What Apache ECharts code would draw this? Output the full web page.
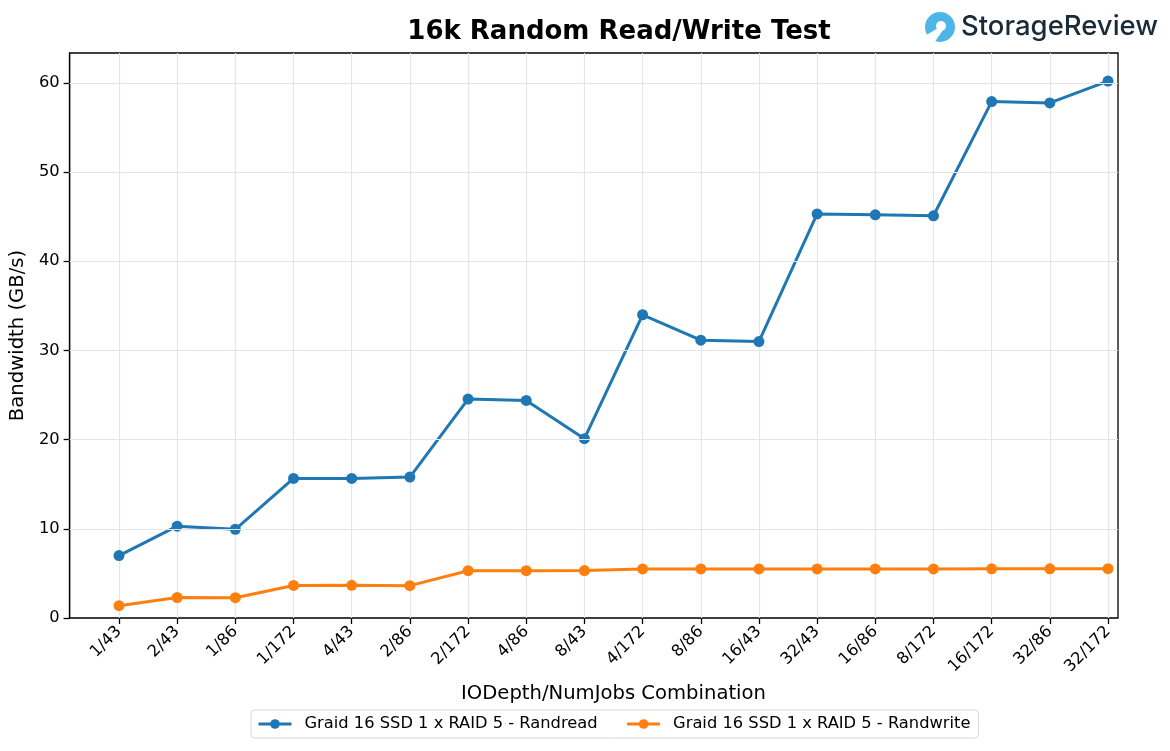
<!DOCTYPE html>
<html>
<head>
<meta charset="utf-8">
<script src="https://cdn.jsdelivr.net/npm/echarts@6/dist/echarts.min.js"></script>
<style>
html,body{margin:0;padding:0;background:#fff;}
#c{width:1170px;height:751px;}
</style>
</head>
<body>
<div id="c"></div>
<script>
const categories = ['1/43','2/43','1/86','1/172','4/43','2/86','2/172','4/86','8/43','4/172','8/86','16/43','32/43','16/86','8/172','16/172','32/86','32/172'];
const randread = [7.0, 10.3, 9.95, 15.65, 15.65, 15.8, 24.55, 24.4, 20.1, 34.0, 31.15, 31.0, 45.3, 45.2, 45.1, 57.9, 57.75, 60.2];
const randwrite = [1.38, 2.3, 2.28, 3.65, 3.67, 3.63, 5.3, 5.3, 5.32, 5.5, 5.5, 5.5, 5.5, 5.5, 5.5, 5.52, 5.52, 5.53];
const seriesNames = ['Graid 16 SSD 1 x RAID 5 - Randread', 'Graid 16 SSD 1 x RAID 5 - Randwrite'];
const yTicks = [0, 10, 20, 30, 40, 50, 60];

const FONT = 'DejaVu Sans';
const chart = echarts.init(document.getElementById('c'), null, {renderer: 'canvas'});
const gridColor = '#e2e5ea';

chart.setOption({
  animation: false,
  backgroundColor: '#fff',
  textStyle: {fontFamily: FONT},
  title: {
    text: '16k Random Read/Write Test',
    left: 614, top: 14, textAlign: 'center',
    textStyle: {fontFamily: FONT, fontSize: 26, fontWeight: 'bold', color: '#000'}
  },
  legend: {
    left: 251, top: 710,
    data: seriesNames,
    itemWidth: 33, itemHeight: 12, itemGap: 28,
    padding: [6, 8, 6, 6],
    borderColor: '#d8d8d8', borderWidth: 1, borderRadius: 4,
    lineStyle: {width: 3},
    textStyle: {fontFamily: FONT, fontSize: 16.3, color: '#000', padding: [0, 0, 0, 8]}
  },
  grid: [
    {left: 69, right: 52, top: 53, bottom: 133, show: true, borderColor: '#000', borderWidth: 1.3, backgroundColor: 'transparent'},
    {left: 119, right: 62, top: 53, bottom: 133}
  ],
  xAxis: [
    {gridIndex: 0, type: 'value', min: 0, max: 1, show: false},
    {
      gridIndex: 1, type: 'category', data: categories, boundaryGap: false,
      axisLine: {show: false},
      axisTick: {show: true, length: 6, inside: false, alignWithLabel: true, lineStyle: {color: '#000', width: 1.3}},
      axisLabel: {rotate: 45, fontSize: 16.3, color: '#000', margin: 11, interval: 0, fontFamily: FONT},
      splitLine: {show: true, lineStyle: {color: gridColor, width: 1.2}},
      name: 'IODepth/NumJobs Combination', nameLocation: 'middle', nameGap: 66,
      nameTextStyle: {fontFamily: FONT, fontSize: 19.6, color: '#000'}
    }
  ],
  yAxis: [
    {
      gridIndex: 0, type: 'value', min: 0, max: 63.35,
      axisLine: {show: true, lineStyle: {color: '#000', width: 1.3}},
      axisTick: {show: true, length: 6, lineStyle: {color: '#000', width: 1.3}, customValues: yTicks},
      axisLabel: {fontSize: 16.3, color: '#000', margin: 10, fontFamily: FONT, customValues: yTicks},
      splitLine: {show: false},
      name: 'Bandwidth (GB/s)', nameLocation: 'middle', nameGap: 35, nameRotate: 90,
      nameTextStyle: {fontFamily: FONT, fontSize: 19.6, color: '#000'}
    },
    {
      gridIndex: 1, type: 'value', min: 0, max: 63.35, interval: 10,
      axisLine: {show: false}, axisTick: {show: false}, axisLabel: {show: false},
      splitLine: {show: false}
    }
  ],
  series: [
    {
      type: 'line', xAxisIndex: 0, yAxisIndex: 0, data: [], silent: true,
      markLine: {
        silent: true, symbol: 'none', label: {show: false},
        lineStyle: {color: gridColor, width: 1.2, type: 'solid'},
        data: yTicks.slice(1).map(v => ({yAxis: v}))
      }
    },
    {
      name: seriesNames[0], type: 'line', xAxisIndex: 1, yAxisIndex: 1,
      data: randread, symbol: 'circle', symbolSize: 11,
      lineStyle: {color: '#1f77b4', width: 3}, itemStyle: {color: '#1f77b4'}
    },
    {
      name: seriesNames[1], type: 'line', xAxisIndex: 1, yAxisIndex: 1,
      data: randwrite, symbol: 'circle', symbolSize: 11,
      lineStyle: {color: '#ff7f0e', width: 3}, itemStyle: {color: '#ff7f0e'}
    }
  ],
  graphic: [
    {type: 'circle', shape: {cx: 940, cy: 27, r: 15}, style: {fill: '#4db6e6'}},
    {type: 'circle', shape: {cx: 941, cy: 26, r: 5}, style: {fill: '#fff'}},
    {type: 'polygon', shape: {points: [[938, 28], [943, 30], [934, 43], [925, 36]]}, style: {fill: '#fff'}},
    {type: 'text', left: 961, top: 13, style: {text: 'StorageReview', fontFamily: 'Inter', fontSize: 27.5, fontWeight: 500, fill: '#1b2a38'}}
  ]
});
</script>
</body>
</html>
